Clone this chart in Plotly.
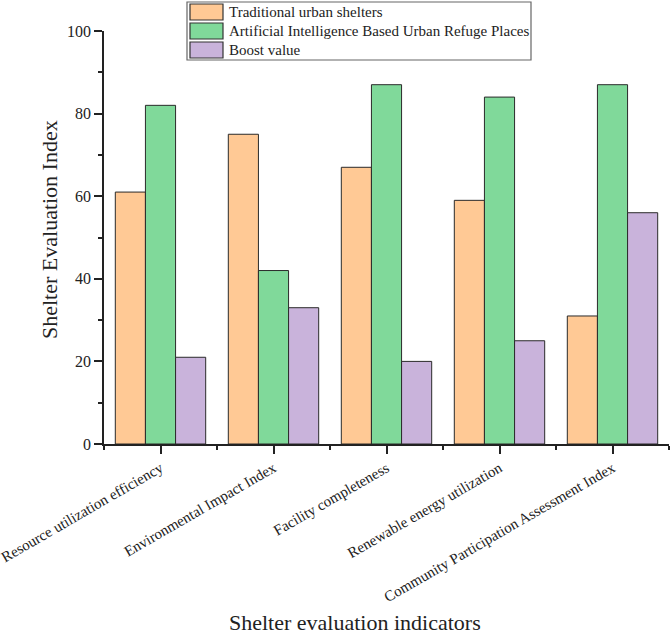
import plotly.graph_objects as go

categories = ["Resource utilization efficiency", "Environmental Impact Index",
              "Facility completeness", "Renewable energy utilization",
              "Community Participation Assessment Index"]
traditional = [61, 75, 67, 59, 31]
ai_based = [82, 42, 87, 84, 87]
boost = [21, 33, 20, 25, 56]

series_names = ["Traditional urban shelters",
                "Artificial Intelligence Based Urban Refuge Places",
                "Boost value"]
colors = ["#FFC995", "#80D99A", "#C9B3DB"]

xpos = list(range(len(categories)))
font_fam = "Liberation Serif, Times New Roman, serif"

W, H = 671, 635
L, R, T, B = 104, 2, 31, 191


# pixel -> paper helpers for the hand-made legend box and titles
def px(x):
    return (x - L) / (W - L - R)


def py(y):
    return (H - B - y) / (H - T - B)


fig = go.Figure()
for name, vals, col in zip(series_names, [traditional, ai_based, boost], colors):
    fig.add_trace(go.Bar(x=xpos, y=vals, name=name, showlegend=False,
                         marker=dict(color=col, line=dict(color="#2a2a2a", width=1))))

# legend drawn by hand (plotly's own rows are too tall)
shapes = [dict(type="rect", xref="paper", yref="paper",
               x0=px(187), x1=px(531), y0=py(60), y1=py(2),
               line=dict(color="#666666", width=1.2), fillcolor="white", layer="above")]
annotations = []
for i, (name, col) in enumerate(zip(series_names, colors)):
    top = 4 + i * 19
    shapes.append(dict(type="rect", xref="paper", yref="paper",
                       x0=px(190), x1=px(223), y0=py(top + 16), y1=py(top),
                       line=dict(color="#333333", width=1.2), fillcolor=col,
                       layer="above"))
    annotations.append(dict(text=name, xref="paper", yref="paper",
                            x=px(227), y=py(top + 8), xanchor="left", yanchor="middle",
                            showarrow=False, font=dict(size=15, family=font_fam,
                                                       color="#222222")))
annotations.append(dict(text="Shelter evaluation indicators", xref="paper", yref="paper",
                        x=px(355), y=py(622), xanchor="center", yanchor="middle",
                        showarrow=False, font=dict(size=22, family=font_fam,
                                                   color="#222222")))
annotations.append(dict(text="Shelter Evaluation Index", xref="paper", yref="paper",
                        x=px(49), y=py(230), xanchor="center", yanchor="middle",
                        textangle=-90, showarrow=False,
                        font=dict(size=22, family=font_fam, color="#222222")))

fig.update_layout(
    width=W, height=H,
    margin=dict(l=L, r=R, t=T, b=B, autoexpand=False),
    plot_bgcolor="white", paper_bgcolor="white",
    barmode="group", bargap=0.2, bargroupgap=0,
    font=dict(family=font_fam, color="#222222"),
    shapes=shapes, annotations=annotations,
)
fig.update_xaxes(
    range=[-0.5, 4.5], tickmode="array", tickvals=xpos, ticktext=categories,
    tickangle=-30, tickfont=dict(size=15), ticks="outside", ticklen=8,
    tickwidth=1.5, tickcolor="#222222", ticklabeloverflow="allow",
    showline=True, linecolor="#222222", linewidth=1.5, showgrid=False,
    zeroline=False, automargin=False,
    minor=dict(tickmode="linear", tick0=0.5, dtick=1, ticks="outside",
               ticklen=4, tickwidth=1.5, tickcolor="#222222", showgrid=False),
)
fig.update_yaxes(
    range=[0, 100], dtick=20, ticks="outside", ticklen=8, tickwidth=1.5,
    tickcolor="#222222", tickfont=dict(size=16),
    showline=True, linecolor="#222222", linewidth=1.5, showgrid=False,
    zeroline=False, automargin=False,
    minor=dict(dtick=10, ticks="outside", ticklen=4, tickwidth=1.5,
               tickcolor="#222222", showgrid=False),
)

fig.write_html("out.html", config={"displayModeBar": False},
               post_script="document.body.style.margin='0px';")
